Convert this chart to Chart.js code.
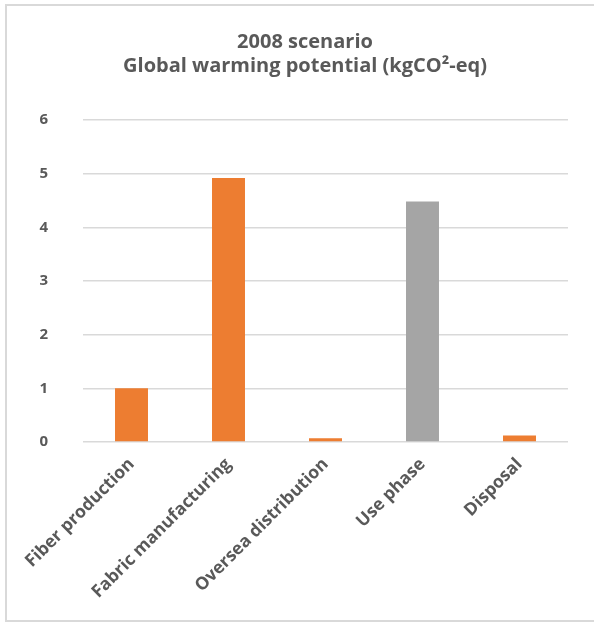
<!DOCTYPE html>
<html>
<head>
<meta charset="utf-8">
<script src="https://cdn.jsdelivr.net/npm/chart.js@4/dist/chart.umd.min.js"></script>
<style>
  html, body { margin: 0; padding: 0; background: #fff; }
  #wrap { position: relative; width: 594px; height: 623px; overflow: hidden; }
  #frame { position: absolute; left: 5px; top: 4px; width: 600px; height: 618px; border: 2px solid #d9d9d9; box-sizing: border-box; }
  canvas { position: absolute; left: 0; top: 0; }
</style>
</head>
<body>
<div id="wrap">
  <div id="frame"></div>
  <canvas id="c" width="594" height="623"></canvas>
</div>
<script>
// Life-cycle stages and their global warming potential (kg CO2-eq), 2008 scenario
const stages = ["Fiber production", "Fabric manufacturing", "Oversea distribution", "Use phase", "Disposal"];
const gwpValues = [1.0, 4.92, 0.07, 4.48, 0.12];
const barColors = ["#ED7D31", "#ED7D31", "#ED7D31", "#A5A5A5", "#ED7D31"];
const titleLines = ["2008 scenario", "Global warming potential (kgCO²-eq)"];
const yTicks = [0, 1, 2, 3, 4, 5, 6];

const textColor = "#595959";
const fontFamily = "'Open Sans', 'DejaVu Sans', sans-serif";

new Chart(document.getElementById("c"), {
  type: "bar",
  data: {
    labels: stages,
    datasets: [{
      data: gwpValues,
      backgroundColor: barColors,
      borderWidth: 0,
      barPercentage: 0.34,
      categoryPercentage: 1.0
    }]
  },
  options: {
    responsive: false,
    animation: false,
    devicePixelRatio: 1,
    layout: { padding: { left: 20, right: 4, top: 0, bottom: 0 } },
    plugins: {
      legend: { display: false },
      tooltip: { enabled: false },
      title: {
        display: true,
        text: titleLines,
        color: textColor,
        font: { family: fontFamily, size: 20, weight: "bold", lineHeight: 1.2 },
        padding: { top: 30, bottom: 42 }
      }
    },
    scales: {
      x: {
        grid: { display: false, drawTicks: false },
        border: { display: false },
        ticks: {
          color: textColor,
          font: { family: fontFamily, size: 17.5, weight: "bold" },
          maxRotation: 45,
          minRotation: 45,
          autoSkip: false,
          padding: 12
        },
        afterFit: (scale) => { scale.height = 181; }
      },
      y: {
        min: 0,
        max: 6,
        afterBuildTicks: (scale) => { scale.ticks = yTicks.map(v => ({ value: v })); },
        grid: { color: "#d9d9d9", lineWidth: 1.5, drawTicks: false },
        border: { display: false },
        ticks: {
          color: textColor,
          font: { family: fontFamily, size: 15, weight: "bold" },
          padding: 35
        },
        afterFit: (scale) => { scale.width = 63; }
      },
      // empty right-hand margin beside the plot
      yRight: {
        position: "right",
        grid: { display: false, drawTicks: false },
        border: { display: false },
        ticks: { display: false },
        afterFit: (scale) => { scale.width = 22; }
      }
    }
  }
});
</script>
</body>
</html>
